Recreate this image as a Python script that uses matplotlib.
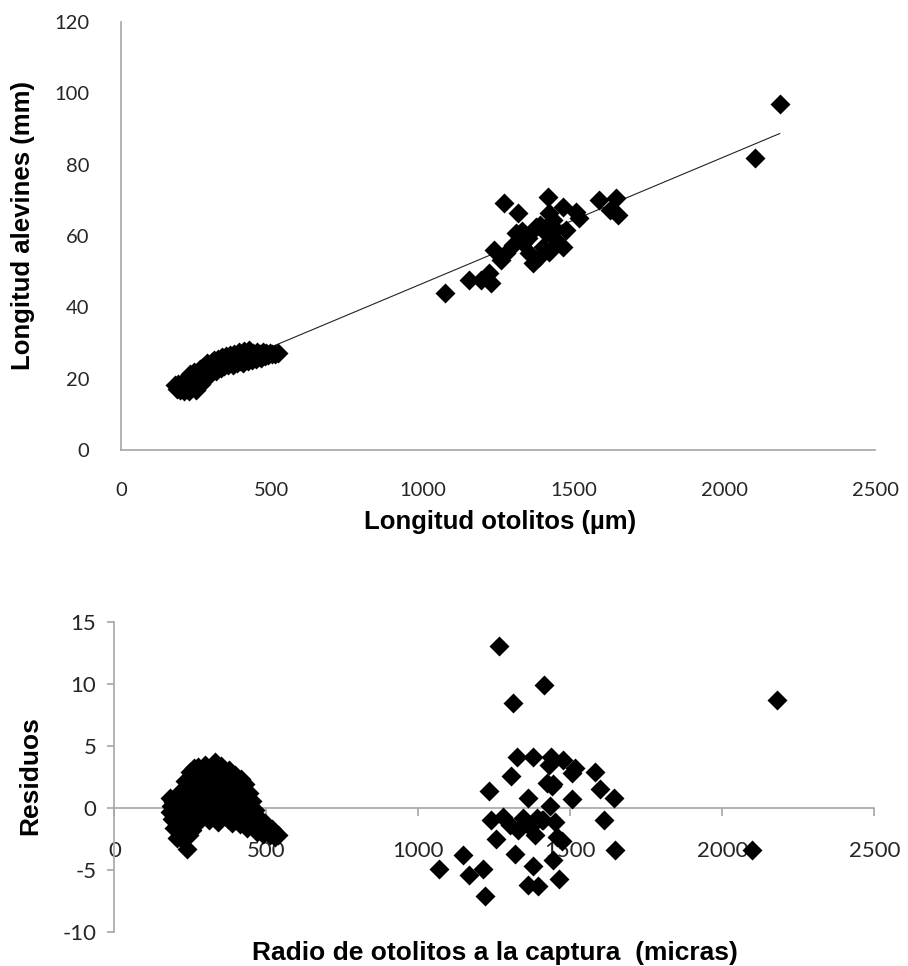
import numpy as np
import matplotlib
matplotlib.use('Agg')
from matplotlib import pyplot as plt

plt.rcParams['axes.unicode_minus'] = False

# top panel: fry length vs otolith length
otolith_small = [180, 185, 190, 195, 200, 205, 210, 215, 215, 220, 225, 228, 232, 236, 240, 243, 247, 250,
                 254, 258, 262, 266, 270, 273, 277, 281, 285, 288, 292, 296, 300, 304, 308, 312, 316, 320,
                 325, 330, 334, 338, 342, 347, 351, 355, 360, 364, 368, 372, 376, 380, 384, 388, 392, 396,
                 400, 404, 408, 412, 416, 420, 424, 428, 433, 437, 441, 446, 450, 455, 460, 465, 470, 476,
                 482, 488, 495, 502, 510, 520]
length_small = [18.2, 17.2, 18.5, 16.8, 17.8, 19.0, 16.4, 17.5, 20.0, 18.6, 16.6, 21.2, 19.3, 17.8, 20.5, 22.0,
                16.8, 18.9, 21.3, 19.8, 22.8, 18.5, 20.9, 23.4, 19.9, 22.2, 24.4, 20.8, 23.1, 21.7, 24.8, 22.5,
                25.2, 23.6, 22.2, 25.6, 24.3, 22.9, 26.0, 24.8, 23.5, 26.3, 25.1, 23.8, 26.7, 24.6, 25.7, 23.9,
                27.0, 25.4, 24.3, 26.4, 27.5, 25.0, 26.1, 24.5, 27.8, 25.7, 26.8, 24.9, 28.0, 26.2, 25.3, 27.3,
                26.5, 25.6, 27.6, 26.0, 27.0, 25.9, 27.4, 26.4, 27.1, 26.5, 27.3, 26.8, 27.0, 27.2]
otolith_big = [1074, 1155, 1194, 1221, 1227, 1238, 1260, 1271, 1276, 1300, 1310, 1315, 1330, 1332, 1350,
               1354, 1365, 1376, 1387, 1390, 1398, 1409, 1415, 1420, 1420, 1431, 1440, 1443, 1465, 1465,
               1476, 1509, 1520, 1586, 1620, 1642, 1647, 2101, 2184]
length_big = [44.1, 47.7, 47.7, 49.5, 46.7, 56.1, 53.3, 69.2, 55.1, 57.5, 60.7, 66.4, 61.5, 58.0, 59.5,
              55.1, 52.3, 62.6, 54.2, 63.0, 57.0, 60.7, 71.0, 66.4, 55.5, 64.5, 62.0, 58.9, 57.0, 68.2,
              61.7, 66.8, 65.0, 70.1, 67.3, 70.6, 65.9, 82.0, 97.0]
trend_intercept = 11.2
trend_slope = 0.0355

# bottom panel: residuals
radius_small = [182, 184, 187, 190, 194, 197, 200, 202, 205, 208, 212, 215, 218, 222, 225, 228, 232, 234,
                237, 240, 243, 246, 250, 252, 255, 258, 262, 265, 268, 272, 276, 280, 284, 288, 292, 297,
                301, 305, 309, 312, 317, 322, 326, 330, 334, 338, 342, 346, 350, 354, 358, 362, 367, 372,
                376, 380, 384, 388, 392, 396, 400, 404, 408, 412, 416, 420, 424, 428, 432, 437, 442, 447,
                452, 457, 462, 468, 474, 480, 487, 494, 502, 510, 518, 527, 537]
resid_small = [0.8, -0.3, 0.2, -0.9, 0.5, -1.6, -0.4, 0.9, -2.4, -1.0, 0.3, -1.8, 1.4, -0.6, -2.6, 0.7,
               2.2, -1.4, -3.3, 0.1, 1.6, -2.2, 2.9, -0.8, -1.8, 0.9, 3.2, -0.3, 1.9, -1.2, 3.3, 0.5,
               2.4, -0.7, 1.3, 3.5, -0.2, 2.1, 0.8, -1.0, 3.0, 1.6, -0.5, 3.7, 2.4, 0.4, -1.1, 1.9,
               3.4, 0.9, -0.6, 2.8, 1.5, -0.9, 3.1, 0.2, 2.2, -1.2, 1.1, 2.7, -0.3, 1.8, 0.6, -1.3,
               2.3, 1.0, -0.8, 1.9, 0.2, -1.6, 1.2, -0.5, 0.6, -1.4, -0.2, -1.9, -0.8, -1.5, -2.1, -1.2,
               -1.8, -2.2, -1.7, -2.3, -2.2]
radius_big = [1069, 1146, 1168, 1212, 1218, 1232, 1240, 1256, 1264, 1279, 1301, 1306, 1312, 1317, 1323,
              1328, 1345, 1356, 1361, 1361, 1367, 1378, 1378, 1383, 1389, 1394, 1406, 1411, 1413, 1422,
              1431, 1433, 1436, 1438, 1443, 1444, 1450, 1455, 1461, 1472, 1475, 1505, 1505, 1516, 1582,
              1599, 1610, 1643, 1648, 2097, 2179]
resid_big = [-4.9, -3.8, -5.4, -4.9, -7.1, 1.4, -0.95, -2.5, 13.1, -0.7, -1.35, 2.6, 8.5, -3.7, 4.1,
             -1.75, -0.8, -1.2, 0.8, -6.2, -1.5, 4.1, -4.7, -2.15, -0.8, -6.3, -0.95, -1.0, 9.9, 2.0,
             3.5, 0.13, 4.1, 1.75, 1.9, -4.2, -1.1, -2.3, -5.7, -2.7, 3.9, 2.8, 0.7, 3.2, 2.9,
             1.5, -0.95, 0.8, -3.4, -3.4, 8.7]

tick_font = 'Lato'
label_font = 'Liberation Sans'
grey = '#a6a6a6'
tick_col = '#262626'

fig = plt.figure(figsize=(9.08, 9.66), dpi=100)

# ---- top panel
ax = fig.add_axes([0.1333, 0.5342, 0.8304, 0.4430])
x_all = np.array(otolith_small + otolith_big)
y_all = np.array(length_small + length_big)
ax.plot(x_all, y_all, 'D', ms=9.7, color='k', mec='none', zorder=3)
xt = np.array([x_all.min(), x_all.max()])
ax.plot(xt, trend_intercept + trend_slope * xt, color='#222222', lw=0.8, zorder=2)
ax.set_xlim(0, 2500)
ax.set_ylim(0, 120)
ax.set_xticks(np.arange(0, 2501, 500))
ax.set_yticks(np.arange(0, 121, 20))
for s in ['top', 'right']:
    ax.spines[s].set_visible(False)
for s in ['left', 'bottom']:
    ax.spines[s].set_color(grey)
    ax.spines[s].set_linewidth(1.2)
ax.tick_params(axis='x', length=0, pad=23, labelsize=14.5, labelcolor=tick_col)
ax.tick_params(axis='y', length=0, pad=23, labelsize=14.5, labelcolor=tick_col)
for lab in ax.get_xticklabels() + ax.get_yticklabels():
    lab.set_family(tick_font)
fig.text(500/908, 1 - 522/966, 'Longitud otolitos (\u00b5m)', ha='center', va='center',
         family=label_font, weight='bold', fontsize=18.5)
fig.text(23/908, 1 - 225/966, 'Longitud alevines (mm)', ha='center', va='center', rotation=90,
         family=label_font, weight='bold', fontsize=18.5)

# ---- bottom panel
ax2 = fig.add_axes([0.1261, 0.0352, 0.8368, 0.3209])
ax2.plot(radius_small + radius_big, resid_small + resid_big, 'D', ms=9.7, color='k', mec='none', zorder=3)
ax2.set_xlim(0, 2500)
ax2.set_ylim(-10, 15)
ax2.set_xticks(np.arange(0, 2501, 500))
ax2.set_yticks(np.arange(-10, 16, 5))
ax2.spines['bottom'].set_position(('data', 0))
for s in ['top', 'right']:
    ax2.spines[s].set_visible(False)
for s in ['left', 'bottom']:
    ax2.spines[s].set_color(grey)
    ax2.spines[s].set_linewidth(1.2)
ax2.tick_params(axis='x', length=6, width=1.2, color=grey, pad=18, labelsize=16, labelcolor=tick_col)
ax2.tick_params(axis='y', length=5, width=1.2, color=grey, pad=8, labelsize=16, labelcolor=tick_col)
for lab in ax2.get_xticklabels() + ax2.get_yticklabels():
    lab.set_family(tick_font)
fig.text(495/908, 1 - 953/966, 'Radio de otolitos a la captura  (micras)', ha='center', va='center',
         family=label_font, weight='bold', fontsize=19)
fig.text(30/908, 1 - 776/966, 'Residuos', ha='center', va='center', rotation=90,
         family=label_font, weight='bold', fontsize=19)

fig.savefig('out.png', dpi=100)
plt.close(fig)
